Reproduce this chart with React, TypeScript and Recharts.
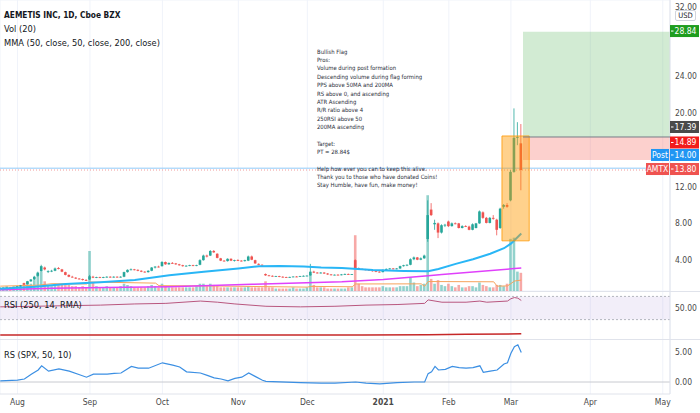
import React from 'react';
import {
  ComposedChart, Bar, Line, XAxis, YAxis, CartesianGrid, ReferenceArea, ReferenceLine, Cell,
} from 'recharts';

const FONT = "'Liberation Sans Narrow', 'DejaVu Sans Condensed', Roboto, sans-serif";
const FIRST = -5; // index of first visible bar (Aug 3, 2020 = 0)
const X_DOMAIN = [-5.07, 189.1];
const P_DOMAIN = [0.65, 32.28];
const M = { top: 0, right: 0, bottom: 0, left: 0 };

// [open, high, low, close] per trading day
const candles = [
  [0.95, 1.0, 0.92, 0.98], [0.98, 1.02, 0.95, 1.0], [1.0, 1.05, 0.97, 1.02], [1.02, 1.06, 0.98, 1.0], [1.0, 1.1, 0.98, 1.08],
  [1.08, 1.2, 1.05, 1.15], [1.15, 1.3, 1.1, 1.25], [1.5, 1.55, 1.3, 1.35], [1.4, 1.75, 1.35, 1.7], [1.7, 1.95, 1.65, 1.9],
  [1.9, 2.3, 1.85, 2.2], [2.3, 2.75, 2.2, 2.65], [2.8, 3.5, 2.75, 3.35], [3.2, 3.3, 2.9, 3.0], [2.75, 2.9, 2.6, 2.8],
  [2.8, 2.95, 2.7, 2.85], [2.85, 3.2, 2.8, 3.1], [3.15, 3.25, 3.0, 3.05], [3.0, 3.05, 2.7, 2.75], [2.7, 2.75, 2.35, 2.4],
  [2.4, 2.45, 2.15, 2.2], [2.2, 2.3, 2.1, 2.15], [2.1, 2.15, 1.95, 2.0], [2.0, 2.05, 1.9, 1.95], [1.95, 2.0, 1.78, 1.85],
  [1.85, 1.95, 1.75, 1.8], [1.9, 2.4, 1.85, 2.25], [2.2, 2.3, 2.05, 2.1], [2.1, 2.2, 2.05, 2.15], [2.15, 2.2, 2.05, 2.1],
  [2.1, 2.2, 2.05, 2.15], [2.15, 2.25, 2.1, 2.2], [2.2, 2.25, 2.1, 2.15], [2.15, 2.25, 2.1, 2.2], [2.2, 2.25, 2.1, 2.15],
  [2.15, 2.25, 2.1, 2.2], [2.2, 2.75, 2.15, 2.7], [2.7, 3.0, 2.65, 2.95], [2.95, 3.1, 2.9, 3.0], [3.0, 3.05, 2.9, 2.95],
  [2.95, 3.0, 2.8, 2.85], [2.85, 2.9, 2.7, 2.75], [2.75, 2.8, 2.65, 2.7], [2.7, 2.9, 2.65, 2.85], [2.85, 3.25, 2.8, 3.2],
  [3.2, 3.35, 3.1, 3.3], [3.3, 3.4, 3.2, 3.25], [3.35, 3.9, 3.3, 3.8], [3.8, 3.85, 3.5, 3.55], [3.55, 3.75, 3.5, 3.7],
  [3.7, 3.8, 3.6, 3.65], [3.65, 3.7, 3.5, 3.55], [3.55, 3.6, 3.4, 3.45], [3.45, 3.5, 3.3, 3.35], [3.35, 3.45, 3.3, 3.4],
  [3.4, 3.5, 3.35, 3.45], [3.45, 3.5, 3.35, 3.4], [3.4, 3.5, 3.35, 3.45], [3.5, 4.1, 3.45, 4.0], [4.0, 4.6, 3.95, 4.5],
  [4.5, 4.6, 4.3, 4.4], [4.5, 5.1, 4.45, 5.0], [5.0, 5.1, 4.8, 4.85], [4.7, 4.75, 4.2, 4.25], [4.2, 4.25, 3.9, 3.95],
  [3.95, 4.0, 3.85, 3.9], [3.9, 4.2, 3.85, 4.15], [4.15, 4.2, 3.9, 3.95], [3.95, 4.05, 3.85, 4.0], [4.0, 4.1, 3.9, 3.95],
  [3.95, 4.0, 3.85, 3.9], [3.9, 4.05, 3.85, 4.0], [3.95, 4.5, 3.9, 4.4], [4.4, 4.5, 4.0, 4.05], [4.0, 4.05, 3.6, 3.65],
  [3.6, 3.65, 3.45, 3.5], [3.5, 3.55, 3.4, 3.45], [2.5, 2.55, 2.3, 2.35], [2.35, 2.4, 2.25, 2.3], [2.3, 2.35, 2.2, 2.25],
  [2.25, 2.3, 2.2, 2.28], [2.28, 2.3, 2.15, 2.2], [2.2, 2.25, 2.1, 2.15], [2.15, 2.2, 2.08, 2.12], [2.12, 2.2, 2.08, 2.18],
  [2.18, 2.25, 2.15, 2.22], [2.22, 2.28, 2.15, 2.2], [2.2, 2.3, 2.18, 2.28], [2.28, 2.35, 2.22, 2.3], [2.3, 2.35, 2.25, 2.32],
  [2.35, 3.6, 2.3, 2.75], [2.75, 2.85, 2.6, 2.65], [2.65, 2.7, 2.55, 2.6], [2.6, 2.7, 2.55, 2.65], [2.65, 2.7, 2.5, 2.55],
  [2.55, 2.6, 2.4, 2.45], [2.45, 2.5, 2.35, 2.4], [2.4, 2.45, 2.35, 2.42], [2.42, 2.48, 2.35, 2.4], [2.4, 2.5, 2.35, 2.45],
  [2.45, 2.55, 2.4, 2.5], [2.5, 2.55, 2.4, 2.45], [2.45, 2.5, 2.4, 2.48], [4.0, 4.1, 3.1, 3.15], [3.15, 3.2, 3.0, 3.05],
  [3.05, 3.1, 2.95, 3.0], [3.0, 3.05, 2.9, 2.95], [2.95, 3.0, 2.85, 2.9], [2.9, 2.95, 2.75, 2.8], [2.8, 2.85, 2.7, 2.75],
  [2.75, 2.8, 2.65, 2.7], [2.7, 3.0, 2.68, 2.95], [2.95, 3.1, 2.9, 3.05], [3.05, 3.15, 3.0, 3.1], [3.1, 3.15, 3.0, 3.05],
  [3.05, 3.15, 3.0, 3.1], [3.1, 3.4, 3.05, 3.35], [3.35, 3.5, 3.3, 3.45], [3.45, 3.55, 3.35, 3.5], [3.5, 4.2, 3.45, 4.1],
  [4.1, 4.4, 4.0, 4.3], [4.3, 4.35, 4.0, 4.05], [4.05, 4.3, 4.0, 4.2], [4.2, 4.6, 4.15, 4.5], [6.3, 10.5, 6.0, 8.9],
  [9.5, 10.2, 8.8, 8.9], [7.9, 8.4, 7.3, 8.05], [8.0, 8.1, 6.4, 7.0], [7.0, 7.9, 6.9, 7.8], [7.8, 7.95, 7.6, 7.85],
  [8.2, 8.3, 7.6, 7.7], [7.7, 8.1, 7.65, 8.0], [8.0, 8.1, 7.9, 7.95], [8.0, 8.05, 7.45, 7.5], [7.5, 7.8, 7.45, 7.7],
  [7.7, 7.8, 7.6, 7.65], [7.65, 7.75, 7.25, 7.3], [7.3, 8.0, 7.25, 7.9], [7.5, 8.05, 7.45, 8.0], [8.0, 9.4, 7.95, 9.3],
  [9.2, 9.3, 8.5, 8.6], [8.6, 8.7, 8.0, 8.05], [8.05, 8.7, 8.0, 8.6], [8.6, 8.9, 8.4, 8.5], [8.4, 8.5, 6.7, 7.3],
  [7.5, 9.7, 7.4, 9.6], [9.8, 10.1, 9.6, 10.0], [10.0, 10.2, 9.7, 9.8], [10.5, 13.8, 10.4, 13.6], [13.6, 20.5, 13.5, 17.3],
  [17.3, 19.0, 16.5, 17.4], [16.7, 18.8, 11.6, 13.8],
];

// volume in millions, same order as candles
const volumes = [
  3, 3, 4, 3, 4,
  4, 5, 6, 8, 6, 9, 14, 16, 8, 5,
  4, 6, 5, 5, 6, 5, 4, 4, 3, 4,
  3, 33, 7, 4, 3, 3, 4, 3, 3, 3,
  4, 6, 5, 4, 3, 3, 3, 3, 4, 5,
  4, 3, 6, 4, 3, 3, 3, 3, 3, 3,
  3, 3, 4, 6, 6, 4, 6, 5, 4, 3,
  3, 3, 3, 3, 3, 3, 3, 4, 3, 3,
  3, 3, 8, 3, 3, 2, 2, 2, 2, 2,
  3, 2, 2, 2, 3, 14, 5, 3, 3, 3,
  2, 2, 2, 2, 2, 2, 3, 3, 46, 6,
  4, 3, 3, 3, 3, 3, 4, 3, 3, 3,
  3, 4, 4, 4, 11, 7, 4, 5, 6, 79,
  10, 6, 9, 5, 4, 6, 4, 3, 5, 3,
  3, 4, 4, 3, 7, 5, 4, 3, 3, 5,
  5, 4, 6, 43, 44, 16, 15,
];

// [bar index, value]
const volMa = [[-5, 4.0], [6, 4.8], [10, 6.0], [20, 5.8], [21, 7.4], [40, 6.5], [41, 4.4], [55, 4.2], [72, 3.6], [84, 3.2],
  [85, 3.8], [97, 3.5], [98, 5.8], [117, 5.9], [118, 3.9], [119, 7.8], [138, 7.6], [139, 4.0], [142, 4.2], [143, 6.1], [144, 8.2], [146, 9.0]];
const ma50 = [[-5, 0.9], [5, 1.1], [14, 1.4], [24, 1.6], [34, 1.85], [44, 2.35], [54, 2.75], [64, 3.1], [70, 3.35], [76, 3.38],
  [83, 3.3], [88, 3.2], [94, 3.15], [103, 2.92], [112, 2.82], [119, 2.8], [122, 3.05], [127, 3.6], [132, 4.1], [137, 4.7],
  [141, 5.3], [143, 5.8], [146, 6.9]];
const ma200 = [[-5, 0.78], [10, 0.95], [25, 1.02], [44, 1.1], [68, 1.38], [94, 1.65], [106, 1.9], [119, 2.3], [123, 2.45], [146, 3.15]];
const rsi = [[-5, 52], [5, 53], [14, 54], [24, 55], [34, 57], [43, 58], [53, 62], [58, 60], [63, 57], [72, 53], [82, 52], [92, 53],
  [101, 55], [110, 56], [118, 58], [119, 64], [121, 62], [123, 60], [130, 60], [134, 62], [136, 60], [142, 62], [143, 66],
  [144, 68], [145, 67], [146, 63]];
const rsiRed = [[-5, 3.4], [60, 3.4], [100, 3.6], [119, 4.0], [130, 4.7], [146, 5.6]];
const rs = [[-5, 0.2], [0, 0.3], [2, 0.5], [4, 1.3], [6, 2.0], [7, 2.7], [9, 1.8], [12, 2.2], [15, 1.8], [18, 1.2], [20, 0.8],
  [22, 1.3], [26, 1.3], [28, 1.45], [30, 1.5], [33, 2.6], [35, 2.3], [38, 2.3], [42, 3.2], [45, 2.8], [47, 2.5], [49, 1.7],
  [53, 1.5], [55, 1.1], [57, 0.7], [59, 0.5], [61, 0.2], [63, 0.6], [65, 0.8], [67, 1.5], [69, 0.9], [71, 0.3], [72, 0.1],
  [82, -0.1], [88, -0.2], [92, -0.2], [98, 0.0], [101, -0.2], [105, -0.3], [110, -0.1], [115, 0.0], [118, 0.0], [119, 1.4],
  [120, 1.7], [121, 2.6], [122, 2.0], [124, 2.1], [126, 2.6], [128, 2.4], [130, 2.3], [132, 2.4], [134, 2.7], [135, 1.6],
  [137, 1.8], [139, 2.0], [141, 3.0], [142, 3.2], [143, 4.8], [144, 5.9], [145, 6.2], [146, 4.9]];

const monthTicks = [0, 21, 42, 64, 84, 106, 125, 143, 166, 187];
const monthLabels = ['Aug', 'Sep', 'Oct', 'Nov', 'Dec', '2021', 'Feb', 'Mar', 'Apr', 'May'];
const priceTicks = [4, 8, 12, 16, 20, 24, 28, 32];
const hiddenPriceLabels = [16, 28]; // covered by the price tags

const notes = [
  'Bullish Flag', 'Pros:', 'Volume during post formation', 'Descending volume during flag forming',
  'PPS above 50MA and 200MA', 'RS above 0, and ascending', 'ATR Ascending', 'R/R ratio above 4',
  '250RSI above 50', '200MA ascending', '', 'Target:', 'PT = 28.84$', '',
  'Help how ever you can to keep this alive.', 'Thank you to those who have donated Coins!',
  'Stay Humble, have fun, make money!',
];

const UP = '#26a69a';
const DOWN = '#ef5350';

const rows: any[] = candles.map((k, n) => ({
  i: FIRST + n, o: k[0], h: k[1], l: k[2], c: k[3], range: [k[2], k[1]], v: volumes[n],
}));
const attach = (key: string, pts: number[][]) => {
  pts.forEach(([i, val]) => {
    const r = rows[i - FIRST];
    if (r) r[key] = val;
  });
};
attach('vma', volMa);
attach('ma50', ma50);
attach('ma200', ma200);
attach('rsi', rsi);
attach('rsiRed', rsiRed);
attach('rs', rs);

const Candle = (props: any) => {
  const { x, y, width, height, payload } = props;
  const up = payload.c >= payload.o;
  const color = up ? UP : DOWN;
  const top = Math.min(y, y + height);
  const bot = Math.max(y, y + height);
  const k = (bot - top) / (payload.h - payload.l || 1);
  const yO = top + (payload.h - payload.o) * k;
  const yC = top + (payload.h - payload.c) * k;
  const cx = x + width / 2;
  return (
    <g>
      <line x1={cx} x2={cx} y1={top} y2={bot} stroke={color} strokeWidth={0.8} />
      <rect x={x} y={Math.min(yO, yC)} width={width} height={Math.max(0.8, Math.abs(yO - yC))} fill={color} />
    </g>
  );
};

const tag = (value: number, bg: string, dy: number, name?: string, nameW = 0) => (props: any) => {
  const vb = props.viewBox;
  const x = vb.x + vb.width;
  const y = vb.y + dy;
  return (
    <g>
      {name && <rect x={x - nameW} y={y - 6} width={nameW - 1} height={12} fill={bg} />}
      {name && (
        <text x={x - nameW / 2 - 0.5} y={y} dy="0.35em" textAnchor="middle" fill="#fff" fontSize={8.5} fontFamily={FONT}>{name}</text>
      )}
      <rect x={x} y={y - 6} width={29} height={12} fill={bg} />
      <line x1={x + 1} x2={x + 3.5} y1={y} y2={y} stroke="#fff" />
      <text x={x + 15.5} y={y} dy="0.35em" textAnchor="middle" fill="#fff" fontSize={8.5} fontFamily={FONT}>{value.toFixed(2)}</text>
    </g>
  );
};

const PriceTick = (props: any) => {
  const { x, y, payload } = props;
  if (hiddenPriceLabels.includes(payload.value)) return <g />;
  // the top label sits half outside the pane, as in the screenshot
  const shift = payload.value === 32 ? -2 : 0;
  return (
    <text x={x} y={y + shift} dy="0.35em" textAnchor="start" fill="#4a4a4a" fontSize={8.5} fontFamily={FONT}>
      {payload.value.toFixed(2)}
    </text>
  );
};

const TimeTick = (props: any) => {
  const { x, y, payload } = props;
  const label = monthLabels[monthTicks.indexOf(payload.value)];
  return (
    <text x={x} y={y} dy="0.71em" textAnchor="middle" fill="#4a4a4a" fontSize={8.5} fontFamily={FONT}
      fontWeight={label === '2021' ? 'bold' : 'normal'}>{label}</text>
  );
};

const axisTick = { fontSize: 8.5, fill: '#4a4a4a', fontFamily: FONT };
const fmt = (v: number) => v.toFixed(2);
const abs = (top: number): React.CSSProperties => ({ position: 'absolute', left: 0, top });

export default function App() {
  return (
    <div style={{ position: 'absolute', left: 0, top: 0, width: 700, height: 413, background: '#fff', overflow: 'hidden', fontFamily: FONT, color: '#131722' }}>
      <style>{'.recharts-surface{overflow:visible}'}</style>

      {/* main pane: grid, volume, target boxes */}
      <div style={abs(0)}>
        <ComposedChart width={700} height={291} data={rows} margin={M}>
          <CartesianGrid stroke="#f0f3fa" />
          <XAxis dataKey="i" type="number" domain={X_DOMAIN} allowDataOverflow ticks={monthTicks} hide />
          <YAxis orientation="right" width={30} domain={P_DOMAIN} allowDataOverflow ticks={priceTicks} tick={false} axisLine={false} tickLine={false} />
          <YAxis yAxisId="v" hide domain={[0, 240]} />
          <ReferenceArea x1={146.5} x2={189.1} y1={17.39} y2={28.84} fill="#4caf50" fillOpacity={0.25} stroke="none" />
          <ReferenceArea x1={146.5} x2={189.1} y1={14.89} y2={17.39} fill="#f44336" fillOpacity={0.25} stroke="none" />
          <ReferenceLine y={14.0} stroke="#90caf9" />
          <ReferenceLine y={13.8} stroke="#ef9a9a" strokeDasharray="1 2" />
          <Bar yAxisId="v" dataKey="v" barSize={2.6} isAnimationActive={false}>
            {rows.map((r) => <Cell key={r.i} fill={r.c >= r.o ? UP : DOWN} fillOpacity={0.5} />)}
          </Bar>
          <Line yAxisId="v" dataKey="vma" stroke="#f7a35c" strokeWidth={1} dot={false} connectNulls isAnimationActive={false} />
        </ComposedChart>
      </div>

      {/* main pane: moving averages and candles */}
      <div style={abs(0)}>
        <ComposedChart width={700} height={291} data={rows} margin={M}>
          <XAxis dataKey="i" type="number" domain={X_DOMAIN} allowDataOverflow hide />
          <YAxis orientation="right" width={30} domain={P_DOMAIN} allowDataOverflow ticks={priceTicks} tick={<PriceTick />}
            axisLine={{ stroke: '#e0e3eb' }} tickLine={false} tickSize={0} tickMargin={5} />
          <Line dataKey="ma200" stroke="#e040fb" strokeWidth={1.5} dot={false} connectNulls isAnimationActive={false} />
          <Line dataKey="ma50" stroke="#29b6f6" strokeWidth={2} dot={false} connectNulls isAnimationActive={false} />
          <Bar dataKey="range" shape={Candle} barSize={2.6} isAnimationActive={false} />
        </ComposedChart>
      </div>

      {/* main pane: flag box and price tags */}
      <div style={abs(0)}>
        <ComposedChart width={700} height={291} data={rows} margin={M}>
          <XAxis dataKey="i" type="number" domain={X_DOMAIN} allowDataOverflow hide />
          <YAxis orientation="right" width={30} domain={P_DOMAIN} allowDataOverflow tick={false} axisLine={false} tickLine={false} />
          <ReferenceArea x1={140.4} x2={148.3} y1={6.1} y2={17.5} fill="#ff9800" fillOpacity={0.45} stroke="#ff9800" strokeOpacity={0.8} />
          <ReferenceLine segment={[{ x: 146.5, y: 17.39 }, { x: 189.1, y: 17.39 }]} stroke="#787b86" />
          <ReferenceLine y={28.84} stroke="none" label={tag(28.84, '#1f9d1f', -0.6)} />
          <ReferenceLine y={17.39} stroke="none" label={tag(17.39, '#4a4a4a', -10)} />
          <ReferenceLine y={14.89} stroke="none" label={tag(14.89, '#f21c1c', -17.5)} />
          <ReferenceLine y={14.0} stroke="none" label={tag(14.0, '#2196f3', -13.2, 'Post', 19)} />
          <ReferenceLine y={13.8} stroke="none" label={tag(13.8, '#ef5350', -1, 'AMTX', 24)} />
        </ComposedChart>
      </div>

      <div style={{ position: 'absolute', left: 4, top: 9, fontSize: 8.3, fontWeight: 'bold', lineHeight: '12px' }}>AEMETIS INC, 1D, Cboe BZX</div>
      <div style={{ position: 'absolute', left: 4, top: 23, fontSize: 9.2, lineHeight: '12px' }}>Vol (20)</div>
      <div style={{ position: 'absolute', left: 4, top: 37, fontSize: 9.2, lineHeight: '12px' }}>MMA (50, close, 50, close, 200, close)</div>
      <div style={{ position: 'absolute', left: 675, top: 10, width: 19, height: 9, border: '1px solid #d1d4dc', borderRadius: 2, fontSize: 7.5, lineHeight: '9px', textAlign: 'center', background: '#fff' }}>USD</div>

      <div style={{ position: 'absolute', left: 317, top: 47.8, fontSize: 5.9, lineHeight: '8.35px', whiteSpace: 'pre', color: '#2a2e39' }}>
        {notes.map((t, n) => <div key={n} style={{ height: 8.35 }}>{t}</div>)}
      </div>

      <div style={{ position: 'absolute', left: 0, top: 291, width: 700, height: 1, background: '#e0e3eb' }} />

      {/* RSI pane */}
      <div style={abs(292)}>
        <ComposedChart width={700} height={47} data={rows} margin={M}>
          <CartesianGrid stroke="#f0f3fa" horizontal={false} />
          <XAxis dataKey="i" type="number" domain={X_DOMAIN} allowDataOverflow ticks={monthTicks} hide />
          <YAxis orientation="right" width={30} domain={[-3.4, 77.6]} allowDataOverflow ticks={[0, 50]} tick={axisTick}
            tickFormatter={fmt} axisLine={{ stroke: '#e0e3eb' }} tickLine={false} tickSize={0} tickMargin={5} />
          <ReferenceArea y1={30} y2={70} fill="#7e57c2" fillOpacity={0.1} stroke="none" />
          <ReferenceLine y={70} stroke="#b2b5be" strokeDasharray="2 2" />
          <ReferenceLine y={30} stroke="#b2b5be" strokeDasharray="2 2" />
          <Line dataKey="rsi" stroke="#b9577f" strokeWidth={1} dot={false} connectNulls isAnimationActive={false} />
          <Line dataKey="rsiRed" stroke="#c62828" strokeWidth={1.5} dot={false} connectNulls isAnimationActive={false} />
        </ComposedChart>
      </div>
      <div style={{ position: 'absolute', left: 4, top: 299, fontSize: 9.2, lineHeight: '12px' }}>RSI (250, 14, RMA)</div>

      <div style={{ position: 'absolute', left: 0, top: 339, width: 700, height: 1, background: '#e0e3eb' }} />

      {/* RS pane with time axis */}
      <div style={abs(340)}>
        <ComposedChart width={700} height={73} data={rows} margin={M}>
          <CartesianGrid stroke="#f0f3fa" horizontal={false} />
          <XAxis dataKey="i" type="number" domain={X_DOMAIN} allowDataOverflow ticks={monthTicks} interval={0} height={19}
            tick={<TimeTick />} axisLine={{ stroke: '#e0e3eb' }} tickLine={false} tickSize={0} tickMargin={5} />
          <YAxis orientation="right" width={30} domain={[-2, 7]} allowDataOverflow ticks={[0, 5]} tick={axisTick}
            tickFormatter={fmt} axisLine={{ stroke: '#e0e3eb' }} tickLine={false} tickSize={0} tickMargin={5} />
          <ReferenceLine y={0} stroke="#c8cad0" />
          <Line dataKey="rs" stroke="#3b8fe3" strokeWidth={1.2} dot={false} connectNulls isAnimationActive={false} />
        </ComposedChart>
      </div>
      <div style={{ position: 'absolute', left: 4, top: 349, fontSize: 9.2, lineHeight: '12px' }}>RS (SPX, 50, 10)</div>
    </div>
  );
}
